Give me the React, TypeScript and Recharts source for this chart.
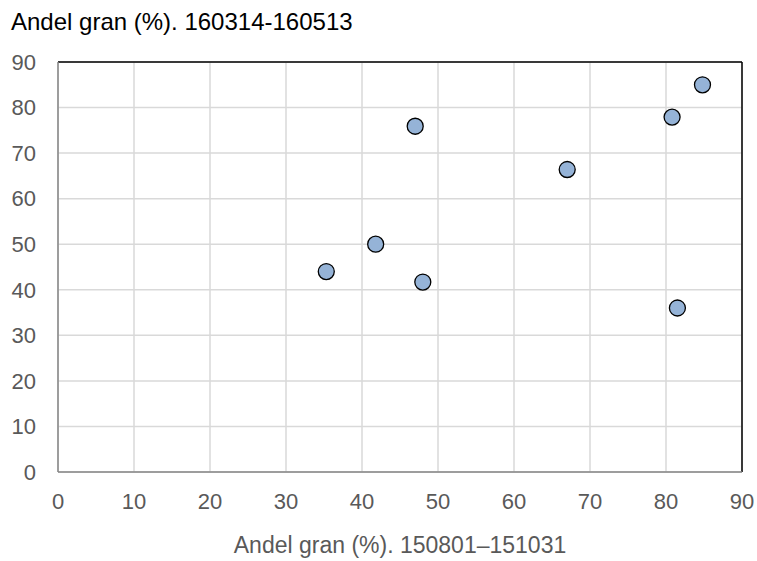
import { ScatterChart, Scatter, XAxis, YAxis, CartesianGrid, ReferenceLine } from 'recharts';

// Andel gran, höst 2015 (x) vs vår 2016 (y)
const autumnShare = [35.3, 41.8, 48.0, 47.0, 67.0, 80.8, 84.8, 81.5];
const springShare = [44.0, 50.0, 41.7, 75.9, 66.4, 77.9, 85.0, 36.0];
const axisTicks = [0, 10, 20, 30, 40, 50, 60, 70, 80, 90];

const points = autumnShare.map((x, i) => ({ x, y: springShare[i] }));

const FONT = '"Liberation Sans", Arial, sans-serif';

const Dot = (props: any) => (
  <circle cx={props.cx} cy={props.cy} r={8} fill="#95b3d7" stroke="#000" strokeWidth={1.3} />
);

const App = (): JSX.Element => {
  return (
    <div style={{ position: 'absolute', left: 0, top: 0, width: 757, height: 561, fontFamily: FONT }}>
      <div style={{ position: 'absolute', left: 11, top: 7.5, fontSize: 24, lineHeight: 'normal', color: '#000', whiteSpace: 'nowrap' }}>
        Andel gran (%). 160314-160513
      </div>
      <ScatterChart width={757} height={561} margin={{ top: 62, right: 15, bottom: 0, left: 0 }}>
        <CartesianGrid stroke="#d9d9d9" strokeWidth={1.5} />
        <XAxis
          type="number"
          dataKey="x"
          domain={[0, 90]}
          ticks={axisTicks}
          height={89}
          tickSize={0}
          tickMargin={21}
          axisLine={{ stroke: '#868686', strokeWidth: 1.5 }}
          tick={{ fill: '#595959', fontSize: 22, fontFamily: FONT }}
          label={{ value: 'Andel gran (%). 150801–151031', position: 'insideBottom', offset: 8, fill: '#595959', fontSize: 23, fontFamily: FONT }}
        />
        <YAxis
          type="number"
          dataKey="y"
          domain={[0, 90]}
          ticks={axisTicks}
          width={58}
          tickSize={0}
          tickMargin={22}
          axisLine={{ stroke: '#868686', strokeWidth: 1.5 }}
          tick={{ fill: '#595959', fontSize: 22, fontFamily: FONT }}
        />
        <ReferenceLine y={90} stroke="#000" strokeWidth={1.5} />
        <ReferenceLine x={90} stroke="#000" strokeWidth={1.5} />
        <Scatter data={points} shape={Dot} isAnimationActive={false} />
      </ScatterChart>
    </div>
  );
};

export default App;
